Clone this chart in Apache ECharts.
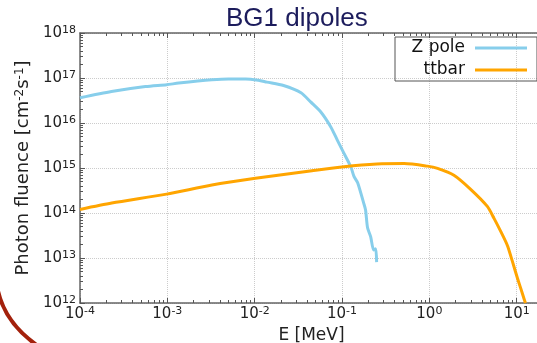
<!DOCTYPE html>
<html><head><meta charset="utf-8">
<script src="https://cdn.jsdelivr.net/npm/echarts@6/dist/echarts.min.js"></script>
<style>html,body{margin:0;padding:0;background:#fff}#c{width:537px;height:343px}</style>
</head><body><div id="c"></div>
<script>
// ---- data (E in MeV, photon fluence in cm^-2 s^-1) ----
const zpoleE = [1.00e-4, 2.29e-4, 5.62e-4, 9.8e-4, 1.35e-3, 3.24e-3, 5.0e-3, 7.9e-3, 1.10e-2, 1.38e-2, 2.14e-2, 3.39e-2, 4.37e-2, 5.69e-2, 7.41e-2, 8.83e-2, 0.105, 0.126, 0.137, 0.151, 0.177, 0.186, 0.196, 0.213, 0.230, 0.243, 0.249];
const zpoleFlux = [3.63e16, 5.01e16, 6.46e16, 7.1e16, 7.7e16, 9.12e16, 9.55e16, 9.55e16, 8.9e16, 8.1e16, 6.8e16, 4.7e16, 2.95e16, 1.78e16, 8.3e15, 4.17e15, 2.14e15, 1.07e15, 6.5e14, 4.7e14, 1.66e14, 1.17e14, 4.7e13, 2.95e13, 1.5e13, 1.6e13, 8.1e12];
const ttbarE = [1.0e-4, 2.31e-4, 9.8e-4, 3.24e-3, 1.02e-2, 4.52e-2, 0.105, 0.251, 0.513, 0.948, 1.24, 1.91, 2.95, 4.61, 5.50, 6.56, 7.82, 8.91, 10.2, 11.1, 12.1, 12.6];
const ttbarFlux = [1.20e14, 1.66e14, 2.63e14, 4.17e14, 5.89e14, 8.7e14, 1.07e15, 1.23e15, 1.26e15, 1.10e15, 9.8e14, 6.9e14, 3.4e14, 1.4e14, 7.6e13, 3.9e13, 1.9e13, 8.5e12, 3.55e12, 2.14e12, 1.26e12, 1.0e12];
const xMajorTicks = [1e-4, 1e-3, 1e-2, 1e-1, 1e0, 1e1];
const yMajorTicks = [1e12, 1e13, 1e14, 1e15, 1e16, 1e17, 1e18];
const seriesNames = ['Z pole', 'ttbar'];
const titleText = 'BG1 dipoles';
const xName = 'E [MeV]';

function minorOf(majors) {
  const out = [];
  majors.forEach(m => { for (let k = 2; k <= 9; k++) out.push(m * k); });
  return out;
}
const xMinor = minorOf(xMajorTicks);
const yMinor = minorOf(yMajorTicks.slice(0, -1));

function pow10Label(v) {
  const l = Math.log10(v), e = Math.round(l);
  if (Math.abs(l - e) > 1e-4) return '';
  return '{b|10}{s|' + e + '}';
}
const FONT = 'DejaVu Sans';
const labelRich = {
  b: { fontFamily: FONT, fontSize: 15, color: '#222', lineHeight: 16, verticalAlign: 'bottom', padding: [6, 0, 0, 0] },
  s: { fontFamily: FONT, fontSize: 11, color: '#222', lineHeight: 12, verticalAlign: 'top' }
};
const axisColor = '#666';
const zip = (a, b) => a.map((v, i) => [v, b[i]]);

const chart = echarts.init(document.getElementById('c'), null, { renderer: 'canvas' });
const Y_MAX = 1.00001e18; // tiny headroom so the 10^18 tick survives float rounding

function xAx(pos, major, labels) {
  return {
    type: 'log', logBase: 10, min: 1e-4, max: 20, position: pos,
    axisLine: { show: major, lineStyle: { color: axisColor, width: 1.5 } },
    axisTick: { show: true, inside: true, length: major ? 5 : 3, customValues: major ? xMajorTicks : xMinor, lineStyle: { color: '#555', width: 1 } },
    axisLabel: labels ? { show: true, customValues: xMajorTicks, formatter: pow10Label, rich: labelRich, margin: 3, showMinLabel: true, showMaxLabel: true } : { show: false },
    splitLine: { show: labels, lineStyle: { type: 'dotted', color: '#ccc', width: 1 } },
    name: labels ? xName : '', nameLocation: 'middle', nameGap: 22,
    nameTextStyle: { fontFamily: FONT, fontSize: 17, color: '#222' }
  };
}
function yAx(major, labels) {
  return {
    type: 'log', logBase: 10, min: 1e12, max: Y_MAX, position: 'left',
    axisLine: { show: major, lineStyle: { color: axisColor, width: 1.5 } },
    axisTick: { show: true, inside: true, length: major ? 5 : 3, customValues: major ? yMajorTicks : yMinor, lineStyle: { color: '#555', width: 1 } },
    axisLabel: labels ? { show: true, customValues: yMajorTicks, formatter: pow10Label, rich: labelRich, margin: 4, showMinLabel: true, showMaxLabel: true, hideOverlap: false } : { show: false },
    splitLine: { show: labels, lineStyle: { type: 'dotted', color: '#ccc', width: 1 } },
    name: labels ? 'Photon fluence [cm{s|-2}s{s|-1}]' : '', nameLocation: 'middle', nameGap: 48, nameRotate: 90,
    nameTextStyle: { fontFamily: FONT, fontSize: 18, color: '#222',
      rich: { s: { fontFamily: FONT, fontSize: 12, color: '#222', verticalAlign: 'top', lineHeight: 12 } } }
  };
}

chart.setOption({
  animation: false,
  backgroundColor: '#fff',
  title: { text: titleText, left: 221, top: 1, textStyle: { fontFamily: 'Liberation Sans', fontSize: 26, fontWeight: 'normal', color: '#1c1c5c' } },
  grid: { left: 80, top: 33, width: 463, bottom: 40, outerBoundsMode: 'none' },
  legend: {
    orient: 'vertical', right: 0, top: 37, align: 'right', icon: 'rect',
    itemWidth: 52, itemHeight: 3, itemGap: 2, padding: [1, 10, 1, 12],
    borderColor: '#555', borderWidth: 1, borderRadius: 0,
    textStyle: { fontFamily: FONT, fontSize: 17, color: '#111', width: 58, align: 'right', lineHeight: 20, padding: [0, 5, 0, 0] },
    data: seriesNames
  },
  xAxis: [xAx('bottom', true, true), xAx('bottom', false, false), xAx('top', true, false), xAx('top', false, false)],
  yAxis: [yAx(true, true), yAx(false, false)],
  series: [
    { name: seriesNames[0], type: 'line', xAxisIndex: 0, yAxisIndex: 0, data: zip(zpoleE, zpoleFlux), showSymbol: false, smooth: 0.25,
      lineStyle: { color: '#87CEEB', width: 3, join: 'round' }, itemStyle: { color: '#87CEEB' } },
    { name: seriesNames[1], type: 'line', xAxisIndex: 0, yAxisIndex: 0, data: zip(ttbarE, ttbarFlux), showSymbol: false, smooth: 0.25,
      lineStyle: { color: '#FFA500', width: 3, join: 'round' }, itemStyle: { color: '#FFA500' } }
  ],
  graphic: [
    { type: 'bezierCurve', silent: true, shape: { x1: -3, y1: 286, x2: 38, y2: 346, cpx1: 3, cpy1: 322 },
      style: { stroke: '#a3210c', lineWidth: 4, fill: null } }
  ]
});
</script>
</body></html>
